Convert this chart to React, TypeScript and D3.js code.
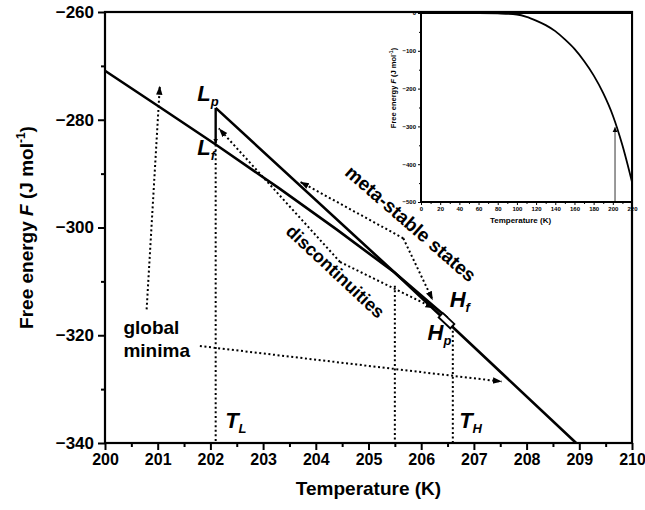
import * as d3 from "d3";
import { useEffect, useRef } from "react";

const W = 645;
const H = 510;
const font = "Arial, 'Liberation Sans', Helvetica, sans-serif";

// main panel, temperature (K) and free energy (J/mol)
const tempTicks = d3.range(200, 211, 1);
const tempMinor = d3.range(200.5, 210, 1);
const energyTicks = [-260, -280, -300, -320, -340];
const energyMinor = [-270, -290, -310, -330];

// low temperature phase (global minimum below 205.5 K, meta-stable above)
const lowPhaseT = [200, 201, 202.1, 203.3, 204.4, 205.5, 206.5];
const lowPhaseF = [-270.9, -277.4, -284.6, -292.7, -300.4, -308.4, -316.8];
// high temperature phase (meta-stable below 205.5 K)
const highPhaseT = [202.1, 205.5, 208.94];
const highPhaseF = [-277.8, -308.4, -340];

// special temperatures
const tL = 202.1;
const tEq = 205.5;
const tH = 206.6;

// inset: full range
const insetT = [25, 60, 80, 100, 110, 120, 130, 140, 150, 160, 170, 180, 190, 200, 210, 220];
const insetF = [0, 0, -1, -4, -10, -20, -32, -48, -70, -95, -127, -165, -212, -271, -350, -447];
const insetTTicks = d3.range(0, 221, 20);
const insetTMinor = d3.range(10, 220, 20);
const insetFTicks = [0, -100, -200, -300, -400, -500];
const insetFMinor = [-50, -150, -250, -350, -450];

// dotted arrows, [tail, tip] in data units
const globalArrows = [
  [[200.79, -315.2], [201.04, -273.7]],
  [[201.8, -322.0], [207.53, -328.6]],
];
const discontArrows = [
  [[204.46, -306.4], [202.16, -281.6]],
  [[204.46, -306.4], [206.25, -315.0]],
];
const metaArrows = [
  [[205.66, -302.0], [203.7, -291.5]],
  [[205.66, -302.0], [206.22, -313.5]],
];

function App() {
  const ref = useRef<SVGSVGElement>(null);

  useEffect(() => {
    const svg = d3.select(ref.current);
    svg.selectAll("*").remove();

    const x = d3.scaleLinear().domain([200, 210]).range([105, 632]);
    const y = d3.scaleLinear().domain([-340, -260]).range([443, 12]);

    const defs = svg.append("defs");
    defs.append("marker")
      .attr("id", "head")
      .attr("markerUnits", "userSpaceOnUse")
      .attr("markerWidth", 10).attr("markerHeight", 8)
      .attr("refX", 9).attr("refY", 4)
      .attr("orient", "auto")
      .append("path").attr("d", "M0,0.8 L9,4 L0,7.2 Z").attr("fill", "#000");
    defs.append("marker")
      .attr("id", "small")
      .attr("markerUnits", "userSpaceOnUse")
      .attr("markerWidth", 6).attr("markerHeight", 6)
      .attr("refX", 5).attr("refY", 3)
      .attr("orient", "auto")
      .append("path").attr("d", "M0,0.5 L5,3 L0,5.5 Z").attr("fill", "#000");

    svg.append("rect").attr("width", W).attr("height", H).attr("fill", "#fff");

    // axes
    const xAxis = svg.append("g").attr("transform", "translate(0,443)")
      .call(d3.axisBottom(x).tickValues(tempTicks).tickSize(7).tickSizeOuter(0).tickPadding(4).tickFormat(d3.format("d")));
    svg.append("g").attr("transform", "translate(0,443)")
      .call(d3.axisBottom(x).tickValues(tempMinor).tickSize(4).tickSizeOuter(0).tickFormat(() => ""));
    const yAxis = svg.append("g").attr("transform", "translate(105,0)")
      .call(d3.axisLeft(y).tickValues(energyTicks).tickSize(7).tickSizeOuter(0).tickPadding(4).tickFormat(d3.format("d")));
    svg.append("g").attr("transform", "translate(105,0)")
      .call(d3.axisLeft(y).tickValues(energyMinor).tickSize(4).tickSizeOuter(0).tickFormat(() => ""));
    svg.selectAll(".domain").remove();
    svg.selectAll(".tick line").attr("stroke", "#000").attr("stroke-width", 2);
    [xAxis, yAxis].forEach((a) =>
      a.selectAll("text").attr("font-family", font).attr("font-size", 17).attr("font-weight", "bold").attr("fill", "#000")
    );
    xAxis.selectAll("text").attr("font-size", 16);

    svg.append("rect")
      .attr("x", x(200)).attr("y", y(-260))
      .attr("width", x(210) - x(200)).attr("height", y(-340) - y(-260))
      .attr("fill", "none").attr("stroke", "#000").attr("stroke-width", 2.2);

    svg.append("text")
      .attr("x", (x(200) + x(210)) / 2).attr("y", 495)
      .attr("text-anchor", "middle")
      .attr("font-family", font).attr("font-size", 19).attr("font-weight", "bold")
      .text("Temperature (K)");

    const yt = svg.append("text")
      .attr("transform", `translate(33,${(y(-260) + y(-340)) / 2}) rotate(-90)`)
      .attr("text-anchor", "middle")
      .attr("font-family", font).attr("font-size", 19).attr("font-weight", "bold");
    yt.append("tspan").text("Free energy ");
    yt.append("tspan").attr("font-style", "italic").text("F");
    yt.append("tspan").text(" (J mol");
    yt.append("tspan").attr("font-size", 12).attr("dy", -8).text("-1");
    yt.append("tspan").attr("dy", 8).text(")");

    // dotted guide lines
    const dotted = (g: any) => g.attr("fill", "none").attr("stroke", "#000").attr("stroke-width", 2).attr("stroke-dasharray", "2 2.6");
    const vlines = [
      [tL, -284.6],
      [tEq, -310.8],
      [tH, -318.3],
    ];
    vlines.forEach(([t, f]) => {
      svg.append("line").attr("x1", x(t)).attr("x2", x(t)).attr("y1", y(f)).attr("y2", y(-340)).call(dotted);
    });

    const pline = d3.line<number[]>().x((d) => x(d[0])).y((d) => y(d[1]));
    [...globalArrows, ...discontArrows, ...metaArrows].forEach((pts) => {
      svg.append("path").attr("d", pline(pts)).call(dotted).attr("marker-end", "url(#head)");
    });

    // free energy branches
    const lowPts = lowPhaseT.map((t, i) => [t, lowPhaseF[i]]);
    const highPts = highPhaseT.map((t, i) => [t, highPhaseF[i]]);
    svg.append("path").attr("d", pline(lowPts)).attr("fill", "none").attr("stroke", "#000").attr("stroke-width", 2.6);
    svg.append("path").attr("d", pline(highPts)).attr("fill", "none").attr("stroke", "#000").attr("stroke-width", 2.6);

    // jump Lp -> Lf
    svg.append("line")
      .attr("x1", x(tL)).attr("x2", x(tL))
      .attr("y1", y(highPhaseF[0])).attr("y2", y(lowPhaseF[2]) - 1)
      .attr("stroke", "#000").attr("stroke-width", 2.4)
      .attr("marker-end", "url(#small)");

    // small jump box at H
    const ang = (Math.atan2(y(-340) - y(-308.4), x(208.94) - x(205.5)) * 180) / Math.PI;
    svg.append("rect")
      .attr("x", -8).attr("y", -3).attr("width", 16).attr("height", 6)
      .attr("transform", `translate(${x(206.48)},${y(-317.3)}) rotate(${ang})`)
      .attr("fill", "#fff").attr("stroke", "#000").attr("stroke-width", 1.8);

    // labels
    const subLabel = (t: number, f: number, main: string, sub: string) => {
      const tx = svg.append("text").attr("x", x(t)).attr("y", y(f))
        .attr("font-family", font).attr("font-weight", "bold").attr("font-style", "italic").attr("font-size", 22);
      tx.append("tspan").text(main);
      tx.append("tspan").attr("font-size", 13).attr("dy", 5).text(sub);
    };
    subLabel(201.75, -276.6, "L", "p");
    subLabel(201.75, -286.6, "L", "f");
    subLabel(206.54, -314.8, "H", "f");
    subLabel(206.12, -320.9, "H", "p");
    subLabel(202.28, -337.2, "T", "L");
    subLabel(206.72, -337.2, "T", "H");

    const gm = svg.append("text").attr("font-family", font).attr("font-weight", "bold").attr("font-size", 19);
    gm.append("tspan").attr("x", x(200.35)).attr("y", y(-319.8)).text("global");
    gm.append("tspan").attr("x", x(200.35)).attr("y", y(-324.1)).text("minima");

    svg.append("text")
      .attr("transform", `translate(${x(204.37)},${y(-308.2)}) rotate(43)`)
      .attr("text-anchor", "middle").attr("dominant-baseline", "central")
      .attr("font-family", font).attr("font-weight", "bold").attr("font-size", 18)
      .text("discontinuities");
    svg.append("text")
      .attr("transform", `translate(${x(205.8)},${y(-299.3)}) rotate(41)`)
      .attr("text-anchor", "middle").attr("dominant-baseline", "central")
      .attr("font-family", font).attr("font-weight", "bold").attr("font-size", 19)
      .text("meta-stable states");

    // inset
    const ix = d3.scaleLinear().domain([0, 220]).range([421, 632]);
    const iy = d3.scaleLinear().domain([-500, 0]).range([202, 13]);
    const inset = svg.append("g");
    inset.append("rect").attr("x", ix(0)).attr("y", iy(0)).attr("width", ix(220) - ix(0)).attr("height", iy(-500) - iy(0))
      .attr("fill", "#fff").attr("stroke", "#000").attr("stroke-width", 2);
    const ixa = inset.append("g").attr("transform", `translate(0,${iy(-500)})`)
      .call(d3.axisBottom(ix).tickValues(insetTTicks).tickSize(3).tickSizeOuter(0).tickPadding(2).tickFormat(d3.format("d")));
    inset.append("g").attr("transform", `translate(0,${iy(-500)})`)
      .call(d3.axisBottom(ix).tickValues(insetTMinor).tickSize(2).tickSizeOuter(0).tickFormat(() => ""));
    const iya = inset.append("g").attr("transform", `translate(${ix(0)},0)`)
      .call(d3.axisLeft(iy).tickValues(insetFTicks).tickSize(3).tickSizeOuter(0).tickPadding(2).tickFormat(d3.format("d")));
    inset.append("g").attr("transform", `translate(${ix(0)},0)`)
      .call(d3.axisLeft(iy).tickValues(insetFMinor).tickSize(2).tickSizeOuter(0).tickFormat(() => ""));
    inset.selectAll(".domain").remove();
    inset.selectAll(".tick line").attr("stroke", "#000").attr("stroke-width", 1);
    [ixa, iya].forEach((a) =>
      a.selectAll("text").attr("font-family", font).attr("font-size", 6).attr("font-weight", "bold").attr("fill", "#000")
    );
    inset.append("text")
      .attr("x", (ix(0) + ix(220)) / 2 - 6).attr("y", 223)
      .attr("text-anchor", "middle")
      .attr("font-family", font).attr("font-size", 8).attr("font-weight", "bold")
      .text("Temperature (K)");
    const iyt = inset.append("text")
      .attr("transform", `translate(396,88) rotate(-90)`)
      .attr("text-anchor", "middle")
      .attr("font-family", font).attr("font-size", 7.5).attr("font-weight", "bold");
    iyt.append("tspan").text("Free energy ");
    iyt.append("tspan").attr("font-style", "italic").text("F");
    iyt.append("tspan").text(" (J mol");
    iyt.append("tspan").attr("font-size", 5).attr("dy", -3).text("-1");
    iyt.append("tspan").attr("dy", 3).text(")");

    const iline = d3.line<number>().x((t) => ix(t)).y((_, i) => iy(insetF[i])).curve(d3.curveMonotoneX);
    inset.append("path").attr("d", iline(insetT)).attr("fill", "none").attr("stroke", "#000").attr("stroke-width", 1.8);
    inset.append("line")
      .attr("x1", ix(202.3)).attr("x2", ix(202.3))
      .attr("y1", iy(-500)).attr("y2", iy(-302))
      .attr("stroke", "#000").attr("stroke-width", 0.8)
      .attr("marker-end", "url(#small)");
  }, []);

  return (
    <svg
      ref={ref}
      width={W}
      height={H}
      style={{ position: "absolute", left: 0, top: 0, background: "#fff" }}
    />
  );
}

export default App;
